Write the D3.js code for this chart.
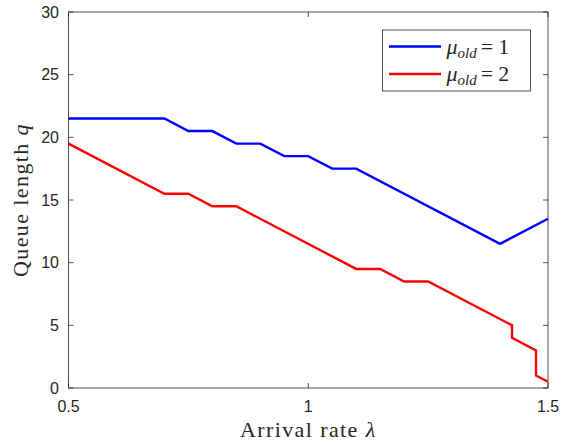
<!DOCTYPE html>
<html>
<head>
<meta charset="utf-8">
<script src="https://cdn.jsdelivr.net/npm/d3@7"></script>
<style>
  body { margin: 0; background: #fff; }
  svg text { fill: #262626; }
</style>
</head>
<body>
<svg id="chart" width="566" height="441"></svg>
<script>
// arrival rate values and queue lengths
const lambdaOld1 = [0.5, 0.7, 0.75, 0.8, 0.85, 0.9, 0.95, 1.0, 1.05, 1.1, 1.4, 1.5];
const qOld1      = [21.5, 21.5, 20.5, 20.5, 19.5, 19.5, 18.5, 18.5, 17.5, 17.5, 11.5, 13.5];

const lambdaOld2 = [0.5, 0.7, 0.75, 0.8, 0.85, 1.1, 1.15, 1.2, 1.25, 1.425, 1.425, 1.475, 1.475, 1.5];
const qOld2      = [19.5, 15.5, 15.5, 14.5, 14.5, 9.5, 9.5, 8.5, 8.5, 5, 4, 3, 1, 0.5];

const xTicks = [0.5, 1, 1.5];
const yTicks = [0, 5, 10, 15, 20, 25, 30];
const seriesNames = ['1', '2'];
const seriesColors = ['#0000ff', '#ff0000'];

const margin = {top: 12, right: 18, bottom: 53, left: 68.5}
const width = 566 - margin.left - margin.right;
const height = 441 - margin.top - margin.bottom;

const svg = d3.select('#chart')
const g = svg.append('g')
  .attr('transform', `translate(${margin.left}, ${margin.top})`);

const xScale = d3.scaleLinear().domain([0.5, 1.5]).range([0, width])
const yScale = d3.scaleLinear().domain([0, 30]).range([height, 0])

const axisColor = '#262626';
const tickLen = 5;
const sans = 'Liberation Sans, Arial, sans-serif';

// box
g.append('rect')
  .attr('x', 0).attr('y', 0)
  .attr('width', width).attr('height', height)
  .attr('fill', 'none')
  .attr('stroke', axisColor)
  .attr('stroke-width', 0.8)

// y ticks (inside, both sides)
yTicks.forEach(t => {
  const y = yScale(t);
  g.append('line').attr('x1', 0).attr('x2', tickLen).attr('y1', y).attr('y2', y)
    .attr('stroke', axisColor).attr('stroke-width', 0.8)
  g.append('line').attr('x1', width - tickLen).attr('x2', width).attr('y1', y).attr('y2', y)
    .attr('stroke', axisColor).attr('stroke-width', 0.8)
  g.append('text')
    .attr('x', -9.5).attr('y', y + 5.5)
    .attr('text-anchor', 'end')
    .style('font-family', sans)
    .style('font-size', '16px')
    .text(t)
})

xTicks.forEach(t => {
  const x = xScale(t);
  g.append('line').attr('x1', x).attr('x2', x).attr('y1', height).attr('y2', height - tickLen)
    .attr('stroke', axisColor).attr('stroke-width', 0.8)
  g.append('line').attr('x1', x).attr('x2', x).attr('y1', 0).attr('y2', tickLen)
    .attr('stroke', axisColor).attr('stroke-width', 0.8)
  g.append('text')
    .attr('x', x).attr('y', height + 24)
    .attr('text-anchor', 'middle')
    .style('font-family', sans)
    .style('font-size', '16px')
    .text(t)
})

const line = d3.line()
  .x(d => xScale(d[0]))
  .y(d => yScale(d[1]))

const series = [
  d3.zip(lambdaOld1, qOld1),
  d3.zip(lambdaOld2, qOld2)
];

series.forEach((s, i) => {
  g.append('path')
    .datum(s)
    .attr('d', line)
    .attr('fill', 'none')
    .attr('stroke', seriesColors[i])
    .attr('stroke-width', 2.4)
    .attr('stroke-linejoin', 'miter')
})

// axis labels
const serif = 'Liberation Serif, DejaVu Serif, serif';
const xLabel = g.append('text')
  .attr('x', width / 2).attr('y', height + 49)
  .attr('text-anchor', 'middle')
  .style('font-family', serif)
  .style('font-size', '22px')
  .style('letter-spacing', '1.4px')
xLabel.append('tspan').text('Arrival rate ')
xLabel.append('tspan').style('font-style', 'italic').text('λ')

const yLabel = g.append('text')
  .attr('transform', `translate(-41, ${height / 2}) rotate(-90)`)
  .attr('text-anchor', 'middle')
  .style('font-family', serif)
  .style('font-size', '22px')
  .style('letter-spacing', '1.4px')
yLabel.append('tspan').text('Queue length ')
yLabel.append('tspan').style('font-style', 'italic').text('q')

// legend
const legend = svg.append('g').attr('transform', 'translate(382.5, 30)')
legend.append('rect')
  .attr('width', 148).attr('height', 61)
  .attr('fill', '#fff')
  .attr('stroke', axisColor)
  .attr('stroke-width', 0.8)

seriesNames.forEach((name, i) => {
  const y = 16.5 + i * 27.5;
  legend.append('line')
    .attr('x1', 6.5).attr('x2', 58.5).attr('y1', y).attr('y2', y)
    .attr('stroke', seriesColors[i]).attr('stroke-width', 2.4)
  const t = legend.append('text')
    .attr('x', 64).attr('y', y + 7)
    .style('font-family', serif)
    .style('font-size', '22px')
  t.append('tspan').style('font-style', 'italic').text('μ')
  t.append('tspan').style('font-style', 'italic').style('font-size', '15px').attr('dy', 4).text('old')
  t.append('tspan').attr('dy', -4).attr('dx', 4).text('=')
  t.append('tspan').attr('dx', 5).text(name)
})
</script>
</body>
</html>
